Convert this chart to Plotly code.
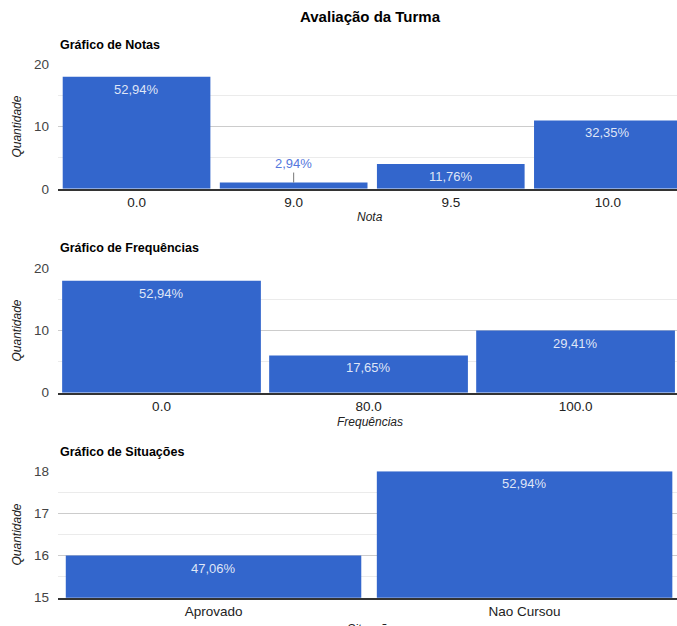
import plotly.graph_objects as go

# ---- data ----
notas_cat = ["0.0", "9.0", "9.5", "10.0"]
notas_val = [18, 1, 4, 11]

freq_cat = ["0.0", "80.0", "100.0"]
freq_val = [18, 6, 10]

sit_cat = ["Aprovado", "Nao Cursou"]
sit_val = [16, 18]

total = 34

W, H = 677, 626
BLUE = "#3366CC"
FONT = "Liberation Sans, Arial, sans-serif"


def corr(r):
    # compensate for the vertical mapping seen in the rendered picture
    return (r - 5.3) / 0.981


def py(px):
    return 1 - corr(px) / H


charts = [
    dict(cat=notas_cat, val=notas_val, top=63, bot=188, rng=[0, 20], dtick=10,
         xr=[-0.5, 3.44], gap=0.06, title="Gráfico de Notas", ty=43,
         xtitle="Nota", xty=216),
    dict(cat=freq_cat, val=freq_val, top=268, bot=393, rng=[0, 20], dtick=10,
         xr=[-0.5, 2.49], gap=0.04, title="Gráfico de Frequências", ty=248,
         xtitle="Frequências", xty=422),
    dict(cat=sit_cat, val=sit_val, top=472, bot=599, rng=[15, 18], dtick=1,
         xr=[-0.5, 1.49], gap=0.05, title="Gráfico de Situações", ty=453,
         xtitle="Situação", xty=630),
]

fig = go.Figure()
annotations = [
    dict(text="<b>Avaliação da Turma</b>", x=370 / W, y=py(15), xref="paper", yref="paper",
         showarrow=False, font=dict(size=15, color="#000", family=FONT), xanchor="center", yanchor="middle")
]
layout = {}
x0 = 58 / W

for k, c in enumerate(charts, start=1):
    xa = "x" if k == 1 else f"x{k}"
    ya = "y" if k == 1 else f"y{k}"
    fig.add_trace(go.Bar(x=c["cat"], y=c["val"], marker=dict(color=BLUE, line=dict(width=0)),
                         xaxis=xa, yaxis=ya, showlegend=False, hoverinfo="x+y",
                         width=1 - c["gap"]))
    ydom = [py(c["bot"]), py(c["top"])]
    layout[f"xaxis{'' if k == 1 else k}"] = dict(
        domain=[x0, 1], anchor=ya, type="category", range=c["xr"],
        showline=True, linecolor="#333", linewidth=2, showgrid=False, ticks="",
        tickfont=dict(size=13.5, color="#222", family=FONT), fixedrange=True)
    layout[f"yaxis{'' if k == 1 else k}"] = dict(
        domain=ydom, anchor=xa, range=c["rng"], dtick=c["dtick"], tick0=c["rng"][0],
        showgrid=True, gridcolor="#cccccc", gridwidth=1, zeroline=False,
        minor=dict(dtick=c["dtick"] / 2, showgrid=True, gridcolor="#ebebeb", gridwidth=1),
        tickfont=dict(size=13.5, color="#444", family=FONT), ticks="",
        ticklabelstandoff=8, fixedrange=True)
    # subplot title
    annotations.append(dict(text=f"<b>{c['title']}</b>", x=x0, y=py(c["ty"]), xref="paper", yref="paper",
                            xanchor="left", yanchor="middle", showarrow=False,
                            font=dict(size=12.5, color="#000", family=FONT)))
    # axis titles
    annotations.append(dict(text=f"<i>{c['xtitle']}</i>", x=370 / W, y=py(c["xty"]), xref="paper", yref="paper",
                            xanchor="center", yanchor="middle", showarrow=False,
                            font=dict(size=12, color="#222", family=FONT)))
    annotations.append(dict(text="<i>Quantidade</i>", x=17 / W, y=(ydom[0] + ydom[1]) / 2, xref="paper", yref="paper",
                            xanchor="center", yanchor="middle", showarrow=False, textangle=-90,
                            font=dict(size=12, color="#222", family=FONT)))
    # value labels
    span = c["rng"][1] - c["rng"][0]
    for i, v in enumerate(c["val"]):
        txt = f"{v / total * 100:.2f}%".replace(".", ",")
        if (v - c["rng"][0]) < 0.15 * span:
            annotations.append(dict(text=txt, x=i, y=v, xref=xa, yref=ya, showarrow=True,
                                    arrowhead=0, arrowwidth=1, arrowcolor="#777", ax=0, ay=-19,
                                    font=dict(size=13, color="#5577dd", family=FONT)))
        else:
            annotations.append(dict(text=txt, x=i, y=v, xref=xa, yref=ya, showarrow=False,
                                    yanchor="top", yshift=-3,
                                    font=dict(size=13, color="rgba(255,255,255,0.85)", family=FONT)))

fig.update_layout(width=W, height=H, margin=dict(l=0, r=0, t=0, b=0),
                  paper_bgcolor="white", plot_bgcolor="white",
                  annotations=annotations, **layout)

fig.write_html("out.html")
